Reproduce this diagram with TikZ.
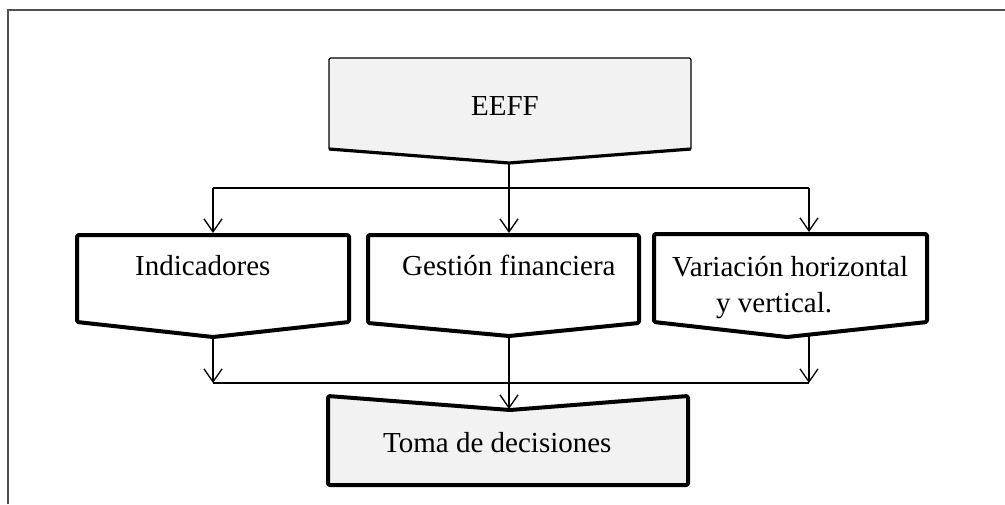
\documentclass[tikz,border=0pt]{standalone}
\usepackage{fontspec}
\setmainfont{Liberation Serif}
\usetikzlibrary{arrows.meta}
\definecolor{boxfill}{HTML}{F2F2F2}
\definecolor{framegray}{HTML}{505050}
\begin{document}
\begin{tikzpicture}[x=1pt,y=-1pt,
  conn/.style={line width=1.3pt, draw=black},
  arr/.style={conn, -{Straight Barb[length=13pt,width=18pt,line width=1.3pt]}},
  lbl/.style={inner sep=0pt, font=\fontsize{29}{35}\selectfont},
  thickbox/.style={line width=4pt, line join=round, rounded corners=1.5pt, draw=black},
]
\useasboundingbox (0,0) rectangle (1005,504);
% outer frame
\draw[framegray, line width=2.2pt] (8,504) -- (8,10) -- (1005,10);

% EEFF box
\fill[boxfill] (329,58) -- (691,58) -- (691,149) -- (509,163) -- (329,149) -- cycle;
\draw[line width=1.4pt, line join=round, rounded corners=1.5pt] (329,149) -- (329,58) -- (691,58) -- (691,149);
\draw[line width=3.2pt, line join=round] (329,149) -- (509,163) -- (691,149);
\node[lbl, anchor=base] (eeff) at (505,115) {EEFF};

% middle boxes
\draw[thickbox] (77,235) -- (349,235) -- (349,322) -- (213,337) -- (77,322) -- cycle;
\node[lbl, anchor=base west] (ind) at (135,275) {Indicadores};

\draw[thickbox] (368,235) -- (639,235) -- (639,323) -- (509,336) -- (368,323) -- cycle;
\node[lbl, anchor=base west] (ges) at (402,275) {Gestión financiera};

\draw[thickbox] (654,234) -- (927,234) -- (927,322) -- (787,337) -- (654,322) -- cycle;
\node[lbl, anchor=base west] (var1) at (672,276) {Variación horizontal};
\node[lbl, anchor=base west] (var2) at (716,312) {y vertical.};

% bottom box
\draw[thickbox, fill=boxfill] (328,396) -- (510,410) -- (688,396) -- (688,485) -- (328,485) -- cycle;
\node[lbl, anchor=base west] (toma) at (383,452) {Toma de decisiones};

% connector points
\coordinate (eeffTip) at (509,163);
\coordinate (busTopL) at (213,188);
\coordinate (busTopR) at (809,188);
\coordinate (indTop) at (213,233);
\coordinate (gesTop) at (509,233);
\coordinate (varTop) at (809,232);
\coordinate (indTip) at (213,337);
\coordinate (gesTip) at (509,336);
\coordinate (varBot) at (809,335);
\coordinate (busBotL) at (213,383);
\coordinate (busBotR) at (809,383);
\coordinate (tomaNotch) at (509,409);

% connectors
\draw[arr] (eeffTip) -- (gesTop);
\draw[conn] (busTopL) -- (busTopR);
\draw[arr] (busTopL) -- (indTop);
\draw[arr] (busTopR) -- (varTop);
\draw[conn] (busBotL) -- (busBotR);
\draw[arr] (indTip) -- (busBotL);
\draw[arr] (varBot) -- (busBotR);
\draw[arr] (gesTip) -- (tomaNotch);
\end{tikzpicture}
\end{document}
